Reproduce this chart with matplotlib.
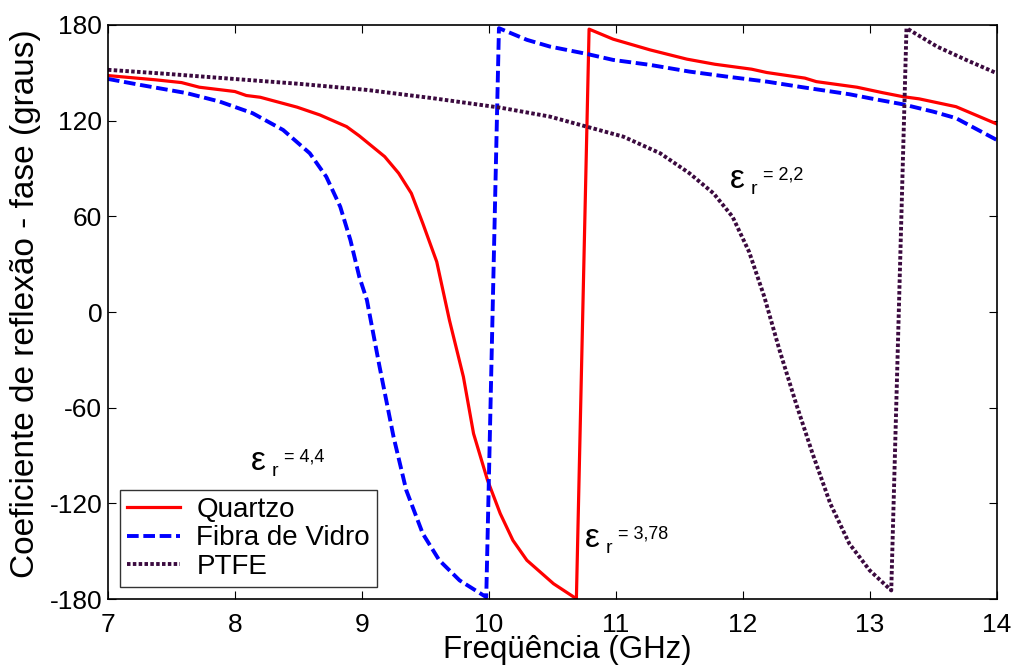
import numpy as np
import matplotlib
matplotlib.use('Agg')
import matplotlib.pyplot as plt

plt.rcParams['font.family'] = ['Liberation Sans', 'DejaVu Sans']
plt.rcParams['axes.unicode_minus'] = False

# Quartzo (er = 3,78)
quartzo_f = [7.0, 7.38, 7.58, 7.72, 8.0, 8.09, 8.2, 8.49, 8.67, 8.88, 8.98, 9.18, 9.29,
             9.39, 9.48, 9.59, 9.69, 9.8, 9.88, 9.99, 10.09, 10.19, 10.3, 10.51, 10.69,
             10.79, 10.98, 11.27, 11.56, 11.78, 12.07, 12.19, 12.49, 12.58, 12.9, 13.1,
             13.26, 13.39, 13.68, 14.0]
quartzo_fase = [148.2, 145.5, 143.8, 140.9, 138.2, 135.7, 134.6, 128.4, 123.5, 116.2, 110.4,
                97.4, 87.0, 74.4, 55.6, 31.5, -5.1, -40.6, -76.2, -105.4, -126.3, -143.1,
                -155.6, -170.3, -179.7, 177.3, 171.0, 164.3, 158.5, 155.3, 152.2, 150.1,
                146.6, 144.4, 140.9, 137.5, 135.0, 133.6, 128.7, 117.9]

# Fibra de Vidro (er = 4,4)
vidro_f = [7.0, 7.25, 7.62, 7.88, 8.14, 8.38, 8.59, 8.72, 8.83, 8.91, 8.98, 9.04, 9.14,
           9.25, 9.35, 9.48, 9.61, 9.77, 9.98, 10.08, 10.3, 10.48, 10.77, 10.98, 11.27,
           11.58, 11.87, 12.19, 12.47, 12.84, 13.0, 13.26, 13.5, 13.68, 14.0]
vidro_fase = [146.1, 142.4, 137.2, 131.9, 124.6, 114.1, 99.5, 84.8, 66.0, 45.1, 22.1, 7.5,
              -34.4, -78.3, -111.7, -138.9, -155.6, -168.2, -178.7, 177.9, 170.6, 166.4,
              161.8, 158.0, 154.9, 150.7, 147.6, 144.4, 140.9, 136.5, 134.0, 130.2, 125.6,
              121.5, 107.9]

# PTFE (er = 2,2)
ptfe_f = [7.0, 7.46, 7.99, 8.51, 9.04, 9.56, 10.09, 10.48, 10.77, 11.06, 11.35, 11.58,
          11.77, 11.92, 12.05, 12.17, 12.29, 12.42, 12.55, 12.69, 12.84, 13.0, 13.17,
          13.29, 13.53, 13.76, 14.0]
ptfe_fase = [151.8, 149.3, 146.1, 143.0, 139.2, 134.0, 128.1, 122.5, 116.2, 109.9, 99.5,
             87.0, 74.4, 59.7, 37.8, 9.6, -23.9, -57.3, -88.7, -120.1, -145.2, -161.9,
             -174.5, 177.9, 166.4, 158.0, 149.7]

fig = plt.figure(figsize=(10.18, 6.71), dpi=100)
ax = fig.add_axes([0.106, 0.107, 0.873, 0.856])

ax.plot(quartzo_f, quartzo_fase, color='#ff0000', lw=2.3, label='Quartzo')
ax.plot(vidro_f, vidro_fase, color='#0000ff', lw=2.8, ls=(0, (3, 1.2)), label='Fibra de Vidro')
ax.plot(ptfe_f, ptfe_fase, color='#3b0a3f', lw=2.8, ls=(0, (0.9, 0.6)), label='PTFE')

ax.set_xlim(7, 14)
ax.set_ylim(-180, 180)
ax.set_xticks(range(7, 15))
ax.set_yticks(range(-180, 181, 60))
ax.tick_params(direction='in', top=True, right=True, labelsize=19, length=6)
ax.tick_params(axis='x', pad=10)
ax.tick_params(axis='y', pad=4)
for s in ax.spines.values():
    s.set_linewidth(1.2)

ax.set_xlabel('Freqüência (GHz)', fontsize=22.5)
ax.xaxis.set_label_coords(0.517, -0.063)
ax.set_ylabel('Coeficiente de reflexão - fase (graus)', fontsize=24)
ax.yaxis.set_label_coords(-0.075, 0.515)

# annotations
def er_label(x, y, val):
    ax.text(x, y, 'ε', fontsize=24, ha='left', va='baseline')
    ax.text(x + 0.16, y - 4, 'r', fontsize=14, ha='left', va='baseline')
    ax.text(x + 0.26, y + 5, '= ' + val, fontsize=13, ha='left', va='baseline')

er_label(8.13, -99, '4,4')
er_label(10.76, -147, '3,78')
er_label(11.9, 78, '2,2')

leg = ax.legend(loc='lower left', fontsize=20, frameon=True, fancybox=False,
                edgecolor='black', handlelength=1.9, handletextpad=0.6, borderpad=0.25,
                labelspacing=0.1, borderaxespad=0, bbox_to_anchor=(0.0135, 0.021))
leg.get_frame().set_linewidth(1.0)

fig.savefig('out.png', dpi=100)
